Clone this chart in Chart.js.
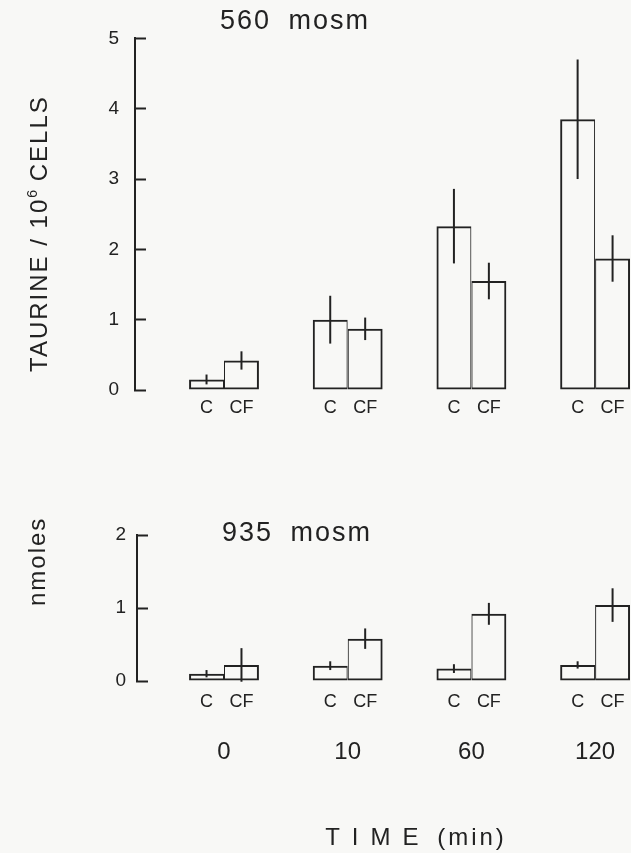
<!DOCTYPE html>
<html>
<head>
<meta charset="utf-8">
<script src="https://cdn.jsdelivr.net/npm/chart.js@4.4.1/dist/chart.umd.min.js"></script>
<style>
  html, body { margin: 0; padding: 0; background: #f8f8f6; overflow: hidden; }
  body { width: 631px; height: 853px; position: relative; color: #222;
         font-family: "Liberation Sans", Arial, sans-serif; }
  canvas { position: absolute; left: 0; }
  .txt { position: absolute; white-space: nowrap; line-height: 1; }
  .panel { font-size: 27px; letter-spacing: 2px; word-spacing: 8px; }
  .ytitle { font-size: 24px; letter-spacing: 2px; transform-origin: 0 0; transform: rotate(-90deg); }
  .ytitle sup { font-size: 14px; vertical-align: 10px; letter-spacing: 0; }
  .xtitle { font-size: 24px; transform: translateX(-50%); }
  .xtitle .spaced { letter-spacing: 12px; }
  .xtitle .unit { letter-spacing: 3px; }
</style>
</head>
<body>
<canvas id="top" width="631" height="430" style="top:0"></canvas>
<canvas id="bottom" width="631" height="353" style="top:500px"></canvas>

<div class="txt panel" style="left:220px; top:7px">560 mosm</div>
<div class="txt panel" style="left:222px; top:519px">935 mosm</div>
<div class="txt ytitle" style="left:25px; top:372px">TAURINE / 10<sup>6</sup> CELLS</div>
<div class="txt ytitle" style="left:25px; top:606px">nmoles</div>
<div class="txt xtitle" style="left:416px; top:825px"><span class="spaced">TIME</span> <span class="unit">(min)</span></div>

<script>
// Sampling times and bar labels
const times = ['0', '10', '60', '120'];
const groupLabels = ['C', 'CF'];
const topTicks = [0, 1, 2, 3, 4, 5];
const bottomTicks = [0, 1, 2];

// 560 mosm: taurine, nmoles / 10^6 cells (mean and error)
const c560 = [0.15, 1.00, 2.33, 3.85];
const c560Err = [0.07, 0.34, 0.53, 0.85];
const cf560 = [0.42, 0.87, 1.55, 1.87];
const cf560Err = [0.13, 0.16, 0.26, 0.33];

// 935 mosm
const c935 = [0.10, 0.21, 0.17, 0.22];
const c935Err = [0.05, 0.06, 0.06, 0.05];
const cf935 = [0.22, 0.58, 0.92, 1.04];
const cf935Err = [0.23, 0.14, 0.15, 0.23];

const INK = '#222';
const CAT_PCT = 0.565;
Chart.defaults.font.family = "'Liberation Sans', Arial, sans-serif";
Chart.defaults.color = INK;

// vertical error line through the top of every bar
const errorBars = {
  id: 'errorBars',
  afterDatasetsDraw(chart) {
    const { ctx } = chart;
    const y = chart.scales.y;
    ctx.save();
    ctx.strokeStyle = INK;
    ctx.lineWidth = 2;
    chart.data.datasets.forEach((ds, di) => {
      chart.getDatasetMeta(di).data.forEach((bar, i) => {
        const v = ds.data[i].y, e = ds.errors[i];
        ctx.beginPath();
        ctx.moveTo(bar.x, y.getPixelForValue(v + e));
        ctx.lineTo(bar.x, y.getPixelForValue(v - e));
        ctx.stroke();
      });
    });
    ctx.restore();
  }
};

const points = arr => arr.map((v, i) => ({ x: i, y: v }));
const half = CAT_PCT / 4;
const barCenters = [];
times.forEach((_, i) => { barCenters.push(i - half, i + half); });

function dataset(values, errors, left) {
  return {
    data: points(values),
    errors,
    xAxisID: 'x',
    backgroundColor: 'rgba(0,0,0,0)',
    borderColor: INK,
    borderSkipped: false,
    borderWidth: left ? { top: 2, left: 2, bottom: 2, right: 1 } : { top: 2, left: 1, bottom: 2, right: 2 },
    categoryPercentage: CAT_PCT,
    barPercentage: 1
  };
}

function makeChart(id, cfg) {
  const { xMin, xMax, yMax, yTicks, axisWidth, labelPad, cfHeight, cfPad, showTimes, padTop } = cfg;
  const scales = {
    x: {
      type: 'linear', min: xMin, max: xMax, weight: 1, offset: false,
      display: showTimes,
      afterBuildTicks: s => { s.ticks = times.map((_, i) => ({ value: i })); },
      afterFit: s => { if (showTimes) s.height = 137; s.paddingLeft = 0; s.paddingRight = 0; },
      grid: { display: false, drawTicks: false, offset: false },
      border: { display: false },
      ticks: { callback: (v, i) => times[i], padding: 22, font: { size: 24 }, maxRotation: 0, autoSkip: false }
    },
    xcf: {
      type: 'linear', position: 'bottom', min: xMin, max: xMax, weight: 0, offset: false,
      afterBuildTicks: s => { s.ticks = barCenters.map(v => ({ value: v })); },
      afterFit: s => { s.height = cfHeight; s.paddingLeft = 0; s.paddingRight = 0; },
      grid: { display: false, drawTicks: false, offset: false },
      border: { display: false },
      ticks: { callback: (v, i) => groupLabels[i % 2], padding: cfPad, font: { size: 18 }, maxRotation: 0, autoSkip: false }
    },
    y: {
      min: 0, max: yMax,
      afterBuildTicks: s => { s.ticks = yTicks.map(v => ({ value: v })); },
      afterFit: s => { s.width = axisWidth; },
      border: { display: true, color: INK, width: 2 },
      grid: { display: true, drawOnChartArea: false, drawTicks: true, tickLength: -11, tickWidth: 2, tickColor: INK },
      ticks: { padding: labelPad, font: { size: 19 } }
    }
  };
  return new Chart(document.getElementById(id), {
    type: 'bar',
    data: { datasets: cfg.datasets },
    options: {
      responsive: false,
      animation: false,
      events: [],
      layout: { padding: { top: padTop, left: 0, right: 0, bottom: 0 } },
      plugins: { legend: { display: false }, tooltip: { enabled: false } },
      scales
    },
    plugins: [errorBars]
  });
}

const GROUP0 = 224, SPACING = 123.7, RIGHT = 631;

makeChart('top', {
  xMin: (135 - GROUP0) / SPACING,
  xMax: 3 + (RIGHT - (GROUP0 + 3 * SPACING)) / SPACING,
  yMax: 5, yTicks: topTicks, axisWidth: 135, labelPad: 27,
  cfHeight: 40, cfPad: 7, showTimes: false, padTop: 29,
  datasets: [dataset(c560, c560Err, true), dataset(cf560, cf560Err, false)]
});

makeChart('bottom', {
  xMin: (137 - GROUP0) / SPACING,
  xMax: 3 + (RIGHT - (GROUP0 + 3 * SPACING)) / SPACING,
  yMax: 2, yTicks: bottomTicks, axisWidth: 137, labelPad: 22,
  cfHeight: 35, cfPad: 10, showTimes: true, padTop: 35,
  datasets: [dataset(c935, c935Err, true), dataset(cf935, cf935Err, false)]
});
</script>
</body>
</html>
